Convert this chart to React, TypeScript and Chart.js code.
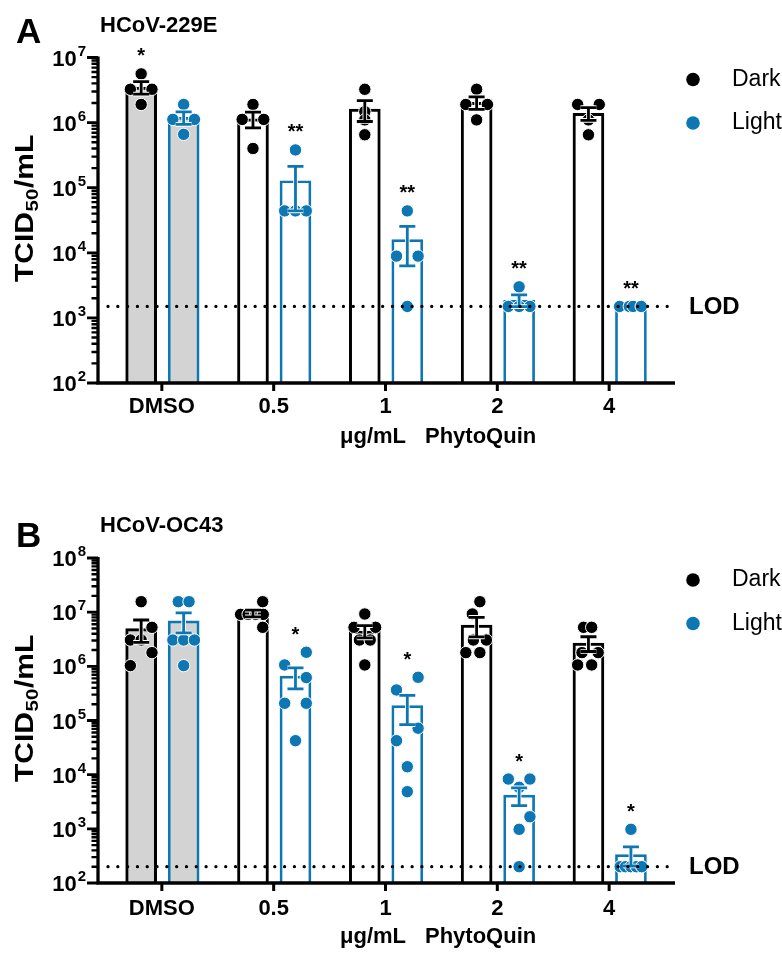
import React, { useEffect, useRef } from 'react';
import { Chart, registerables } from 'chart.js';

Chart.register(...registerables);

// ---------------- DATA ----------------
const categories = ['DMSO', '0.5', '1', '2', '4'];
const seriesLabels = ['Dark', 'Light'];
const xTitleUnit = 'μg/mL';
const xTitleDrug = 'PhytoQuin';
const yTitleMain = 'TCID';
const yTitleSub = '50';
const yTitleUnit = '/mL';
const lodLabel = 'LOD';

// Panel A — HCoV-229E
const letterA = 'A';
const virusA = 'HCoV-229E';
const yExponentsA = [2, 3, 4, 5, 6, 7];
const lodA = 1.5e3;
const darkMeanA = [3.5e6, 1.14e6, 1.61e6, 2.04e6, 1.39e6];
const darkSemA = [0.76e6, 0.31e6, 0.57e6, 0.44e6, 0.31e6];
const lightMeanA = [1.2e6, 1.28e5, 1.59e4, 1.87e3, 1.5e3];
const lightSemA = [0.26e6, 0.84e5, 0.96e4, 0.38e3, 0];
const darkPointsA = [
  [5.6e6, 3.25e6, 3.25e6, 1.9e6],
  [1.9e6, 1.12e6, 1.12e6, 4.0e5],
  [3.25e6, 1.47e6, 1.1e6, 6.5e5],
  [3.25e6, 1.9e6, 1.9e6, 1.1e6],
  [1.9e6, 1.9e6, 1.1e6, 6.5e5],
];
const lightPointsA = [
  [1.9e6, 1.12e6, 1.12e6, 6.6e5],
  [3.8e5, 4.4e4, 4.4e4, 4.4e4],
  [4.4e4, 8.9e3, 8.9e3, 1.5e3],
  [3.0e3, 1.5e3, 1.5e3, 1.5e3],
  [1.5e3, 1.5e3, 1.5e3, 1.5e3],
];
const darkStarsA = ['*', '', '', '', ''];
const lightStarsA = ['', '**', '**', '**', '**'];

// Panel B — HCoV-OC43
const letterB = 'B';
const virusB = 'HCoV-OC43';
const yExponentsB = [2, 3, 4, 5, 6, 7, 8];
const lodB = 2.0e2;
const darkMeanB = [4.97e6, 9.54e6, 4.49e6, 5.76e6, 2.7e6];
const darkSemB = [2.2e6, 1.36e6, 1.15e6, 2.27e6, 0.82e6];
const lightMeanB = [6.9e6, 6.6e5, 1.88e5, 4.2e3, 3.35e2];
const lightSemB = [2.77e6, 2.77e5, 1.04e5, 1.52e3, 1.29e2];
const darkPointsB = [
  [1.56e7, 5.25e6, 3.06e6, 3.06e6, 1.79e6, 1.03e6],
  [1.56e7, 9.1e6, 9.1e6, 9.1e6, 9.1e6, 5.25e6],
  [9.25e6, 5.25e6, 5.25e6, 3.06e6, 3.06e6, 1.06e6],
  [1.56e7, 9.25e6, 3.06e6, 3.06e6, 1.79e6, 1.79e6],
  [5.25e6, 5.25e6, 1.79e6, 1.79e6, 1.06e6, 1.06e6],
];
const lightPointsB = [
  [1.56e7, 1.56e7, 3.06e6, 3.06e6, 3.06e6, 1.03e6],
  [1.82e6, 1.06e6, 6.2e5, 2.08e5, 2.08e5, 4.24e4],
  [6.28e5, 3.66e5, 7.2e4, 4.24e4, 1.4e4, 4.85e3],
  [8.3e3, 8.3e3, 5.85e3, 1.67e3, 9.8e2, 2.0e2],
  [9.8e2, 2.0e2, 2.0e2, 2.0e2, 2.0e2, 2.0e2],
];
const darkStarsB = ['', '', '', '', ''];
const lightStarsB = ['', '*', '*', '*', '*'];

// ---------------- LAYOUT (scatter spread of replicate dots, in dot-slot units) ----------------
const darkSlotsA = [[0, -1, 1, 0], [0, -1, 1, 0], [0, 0, 0, 0], [0, -1, 1, 0], [-1, 1, 0, 0]];
const lightSlotsA = [[0, -1, 1, 0], [0, -1, 0, 1], [0, -1, 1, 0], [0, -1, 0, 1], [-1.05, -0.15, 0.2, 0.95]];
const darkSlotsB = [
  [0, 1, -1, 0, 1, -1],
  [0.9, -1.15, -0.45, 0.25, 0.95, 0.9],
  [0, -1, 1, -0.5, 0.5, 0],
  [0.3, -0.4, -0.3, 0.9, -1, 0.3],
  [-0.45, 0.3, -0.6, 0.9, -1, 0.3],
];
const lightSlotsB = [
  [-0.5, 0.5, -1, 0, 1, 0],
  [1, -1, 1, -1, 1, 0],
  [1, -1, 1, -1, 0, 0],
  [-1, 1, 0, 1, 0, 0],
  [0, -1, -0.5, 0, 0.5, 1],
];

const FONT = '"Liberation Sans", Arial, Helvetica, sans-serif';
const BLUE = '#0c77b3';
const GRAY = '#d3d3d3';
const W = 782;
const H = 477;
const X_MIN = -0.571;
const X_MAX = 4.589;
const OFFSETS = [-0.185, 0.195];
const SLOT = 0.0966;

type Panel = {
  letter: string;
  virus: string;
  exps: number[];
  lod: number;
  means: number[][];
  sems: number[][];
  points: number[][][];
  slots: number[][][];
  stars: string[][];
  canvasTop: number;
  padTop: number;
  padBottom: number;
  letterBase: number;
  titleBase: number;
  tickLabelGap: number;
};

const panels: Panel[] = [
  {
    letter: letterA, virus: virusA, exps: yExponentsA, lod: lodA,
    means: [darkMeanA, lightMeanA], sems: [darkSemA, lightSemA],
    points: [darkPointsA, lightPointsA], slots: [darkSlotsA, lightSlotsA],
    stars: [darkStarsA, lightStarsA],
    canvasTop: 0, padTop: 57.5, padBottom: H - 383, letterBase: 43.3, titleBase: 31.7, tickLabelGap: 30,
  },
  {
    letter: letterB, virus: virusB, exps: yExponentsB, lod: lodB,
    means: [darkMeanB, lightMeanB], sems: [darkSemB, lightSemB],
    points: [darkPointsB, lightPointsB], slots: [darkSlotsB, lightSlotsB],
    stars: [darkStarsB, lightStarsB],
    canvasTop: 477, padTop: 81, padBottom: H - 406, letterBase: 69.7, titleBase: 54.7, tickLabelGap: 32,
  },
];

function makeDecor(p: Panel) {
  return {
    id: 'decor',
    afterDatasetsDraw(chart: any) {
      const ctx: CanvasRenderingContext2D = chart.ctx;
      const xs = chart.scales.x;
      const ys = chart.scales.y;
      const a = chart.chartArea;
      const colors = ['#000', BLUE];
      ctx.save();

      // error bars (mean ± SEM)
      for (let s = 0; s < 2; s++) {
        p.means[s].forEach((m, i) => {
          const sem = p.sems[s][i];
          if (!sem) return;
          const x = xs.getPixelForValue(i + OFFSETS[s]);
          const yt = ys.getPixelForValue(m + sem);
          const yb = ys.getPixelForValue(Math.max(m - sem, ys.min));
          for (let pass = 0; pass < 2; pass++) {
            ctx.strokeStyle = pass === 0 ? '#fff' : colors[s];
            ctx.lineWidth = pass === 0 ? 4.6 : 2.8;
            ctx.lineCap = 'butt';
            ctx.beginPath();
            ctx.moveTo(x, yt);
            ctx.lineTo(x, yb);
            ctx.moveTo(x - 8, yt);
            ctx.lineTo(x + 8, yt);
            ctx.moveTo(x - 8, yb);
            ctx.lineTo(x + 8, yb);
            ctx.stroke();
          }
        });
      }

      // LOD dotted line
      const yl = ys.getPixelForValue(p.lod);
      ctx.strokeStyle = '#000';
      ctx.lineWidth = 3.3;
      ctx.lineCap = 'round';
      ctx.setLineDash([0.01, 9.8]);
      ctx.beginPath();
      ctx.moveTo(a.left + 10, yl);
      ctx.lineTo(a.right - 2, yl);
      ctx.stroke();
      ctx.setLineDash([]);
      ctx.lineCap = 'butt';

      // axes
      ctx.strokeStyle = '#000';
      ctx.lineWidth = 3.3;
      ctx.beginPath();
      ctx.moveTo(a.left, a.top - 1);
      ctx.lineTo(a.left, a.bottom + 1.65);
      ctx.moveTo(a.left - 1.65, a.bottom);
      ctx.lineTo(a.right, a.bottom);
      ctx.stroke();

      // y ticks
      const e0 = p.exps[0];
      const e1 = p.exps[p.exps.length - 1];
      ctx.lineWidth = 2.4;
      ctx.beginPath();
      for (let e = e0; e < e1; e++) {
        for (let k = 2; k <= 9; k++) {
          const y = ys.getPixelForValue(k * Math.pow(10, e));
          ctx.moveTo(a.left - 6.5, y);
          ctx.lineTo(a.left, y);
        }
      }
      ctx.stroke();
      ctx.lineWidth = 2.8;
      ctx.beginPath();
      p.exps.forEach((e) => {
        const y = ys.getPixelForValue(Math.pow(10, e));
        ctx.moveTo(a.left - 11, y);
        ctx.lineTo(a.left, y);
      });
      ctx.stroke();

      // x ticks
      ctx.lineWidth = 3;
      ctx.beginPath();
      categories.forEach((_, i) => {
        const x = xs.getPixelForValue(i);
        ctx.moveTo(x, a.bottom);
        ctx.lineTo(x, a.bottom + 8);
      });
      ctx.stroke();

      // y tick labels
      ctx.fillStyle = '#000';
      ctx.textBaseline = 'alphabetic';
      ctx.textAlign = 'left';
      p.exps.forEach((e) => {
        const y = ys.getPixelForValue(Math.pow(10, e));
        ctx.font = `bold 15px ${FONT}`;
        const ws = ctx.measureText(String(e)).width;
        ctx.font = `bold 22px ${FONT}`;
        const wb = ctx.measureText('10').width;
        const right = a.left - 12;
        const xb = right - ws - wb - 1;
        ctx.fillText('10', xb, y + 8);
        ctx.font = `bold 15px ${FONT}`;
        ctx.fillText(String(e), xb + wb + 1, y - 2);
      });

      // x tick labels
      ctx.textAlign = 'center';
      ctx.font = `bold 22px ${FONT}`;
      categories.forEach((c, i) => {
        ctx.fillText(c, xs.getPixelForValue(i), a.bottom + p.tickLabelGap);
      });

      // x title
      ctx.textAlign = 'left';
      ctx.fillText(xTitleUnit, 340, a.bottom + 60);
      ctx.fillText(xTitleDrug, 425, a.bottom + 60);

      // y title (rotated)
      ctx.save();
      ctx.translate(33, a.bottom - 101);
      ctx.rotate(-Math.PI / 2);
      ctx.scale(1.2, 1);
      ctx.font = `bold 25px ${FONT}`;
      ctx.fillText(yTitleMain, 0, 0);
      let w = ctx.measureText(yTitleMain).width;
      ctx.font = `bold 17px ${FONT}`;
      ctx.fillText(yTitleSub, w + 0.5, 4.5);
      w += ctx.measureText(yTitleSub).width + 1;
      ctx.font = `bold 25px ${FONT}`;
      ctx.fillText(yTitleUnit, w, 0);
      ctx.restore();

      // panel letter + virus title
      ctx.font = `bold 35px ${FONT}`;
      ctx.fillText(p.letter, 16, p.letterBase);
      ctx.font = `bold 22px ${FONT}`;
      ctx.fillText(p.virus, 100, p.titleBase);

      // LOD label
      ctx.font = `bold 24px ${FONT}`;
      ctx.textBaseline = 'middle';
      ctx.fillText(lodLabel, 689, yl + 1);

      // significance stars
      ctx.textAlign = 'center';
      ctx.textBaseline = 'alphabetic';
      ctx.font = `bold 20px ${FONT}`;
      for (let s = 0; s < 2; s++) {
        p.stars[s].forEach((st, i) => {
          if (!st) return;
          const topVal = Math.max(...p.points[s][i]);
          const y = ys.getPixelForValue(topVal) - 23 + 11.5;
          ctx.fillText(st, xs.getPixelForValue(i + OFFSETS[s]), y);
        });
      }

      // legend
      ctx.textAlign = 'left';
      ctx.textBaseline = 'middle';
      ctx.font = `23px ${FONT}`;
      seriesLabels.forEach((lab, s) => {
        const y = a.top + (s === 0 ? 22 : 65.5);
        ctx.fillStyle = colors[s];
        ctx.beginPath();
        ctx.arc(693, y, 6.8, 0, Math.PI * 2);
        ctx.fill();
        ctx.fillStyle = '#000';
        ctx.fillText(lab, 732, y);
      });

      ctx.restore();
    },
  };
}

function buildConfig(p: Panel): any {
  const colors = ['#000', BLUE];
  const barSets = [0, 1].map((s) => ({
    type: 'bar',
    label: seriesLabels[s],
    data: p.means[s].map((v, i) => ({ x: i + OFFSETS[s], y: v })),
    backgroundColor: categories.map((_, i) => (i === 0 ? GRAY : '#fff')),
    borderColor: colors[s],
    borderWidth: s === 0 ? 3 : 2.7,
    borderSkipped: 'bottom',
    barThickness: 31,
    grouped: false,
    order: 2,
  }));
  const dotSets = [0, 1].map((s) => ({
    type: 'scatter',
    label: seriesLabels[s] + ' replicates',
    data: p.points[s].flatMap((arr, i) =>
      arr.map((v, j) => ({ x: i + OFFSETS[s] + p.slots[s][i][j] * SLOT, y: v }))
    ),
    pointRadius: 6.2,
    pointBackgroundColor: colors[s],
    pointBorderColor: '#fff',
    pointBorderWidth: 1,
    showLine: false,
    order: 1,
  }));
  return {
    type: 'bar',
    data: { datasets: [...barSets, ...dotSets] },
    options: {
      responsive: false,
      animation: false,
      devicePixelRatio: 1,
      events: [],
      layout: { padding: { top: p.padTop, bottom: p.padBottom, left: 98, right: W - 675 } },
      scales: {
        x: { type: 'linear', min: X_MIN, max: X_MAX, offset: false, display: false },
        y: {
          type: 'logarithmic',
          min: Math.pow(10, p.exps[0]),
          max: Math.pow(10, p.exps[p.exps.length - 1]),
          display: false,
        },
      },
      plugins: { legend: { display: false }, tooltip: { enabled: false } },
    },
    plugins: [makeDecor(p)],
  };
}

function PanelChart({ panel }: { panel: Panel }) {
  const ref = useRef<HTMLCanvasElement>(null);
  useEffect(() => {
    const chart = new Chart(ref.current as HTMLCanvasElement, buildConfig(panel));
    return () => chart.destroy();
  }, [panel]);
  return (
    <canvas
      ref={ref}
      width={W}
      height={H}
      style={{ position: 'absolute', left: 0, top: panel.canvasTop, width: W, height: H }}
    />
  );
}

export default function App() {
  return (
    <div style={{ position: 'absolute', left: 0, top: 0, width: W, height: 954, background: '#fff' }}>
      {panels.map((p) => (
        <PanelChart key={p.letter} panel={p} />
      ))}
    </div>
  );
}
